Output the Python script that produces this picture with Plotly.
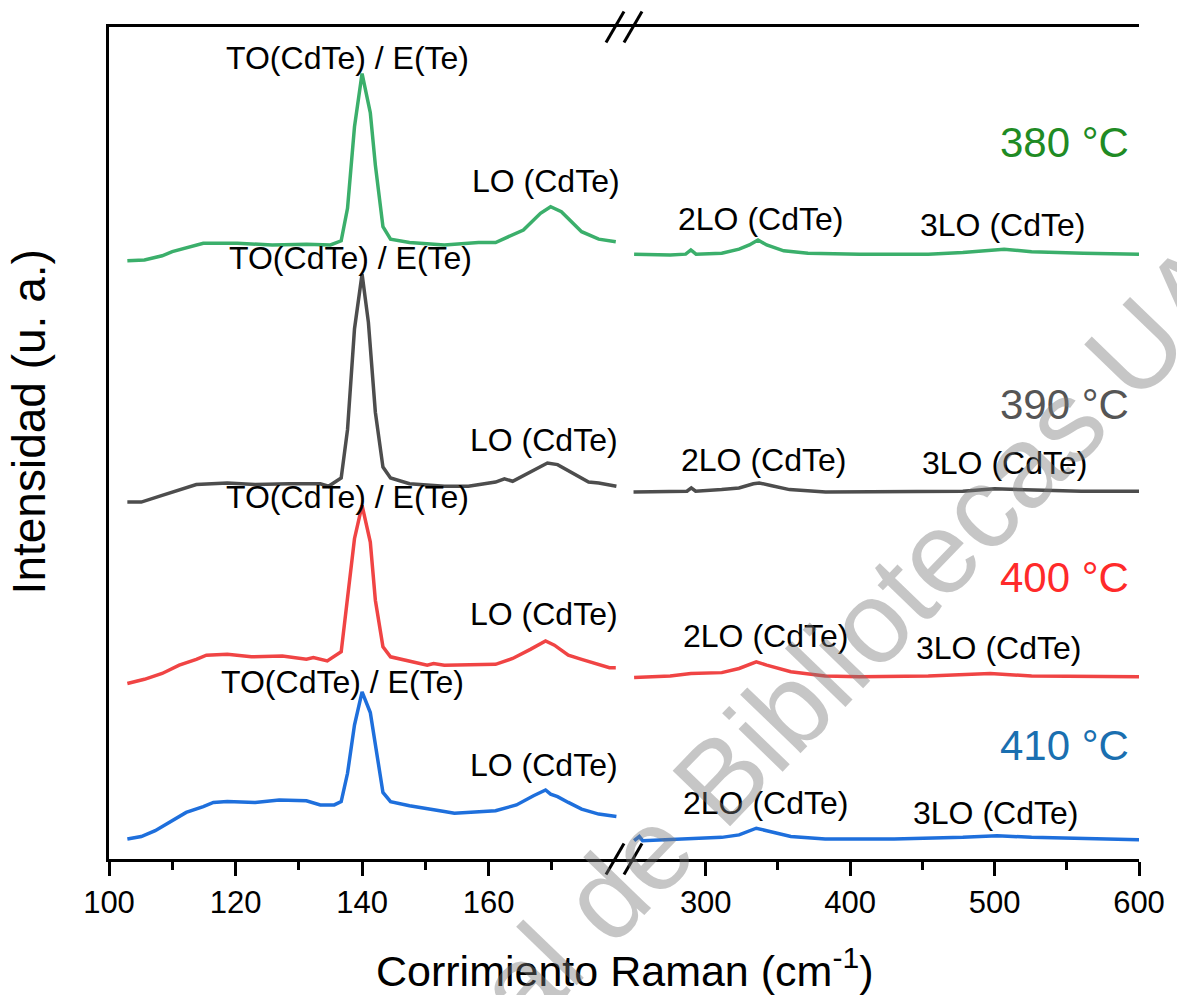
import plotly.graph_objects as go

# ---------------- data (stacked intensities, a.u.) ----------------
# left panel: 100-181 cm-1
x_l_380 = [102.9, 105.6, 108.4, 110.0, 114.9, 120.3, 125.8, 131.2, 135.0, 136.7, 137.7, 138.8, 140.0, 141.3,
           142.1, 143.3, 144.5, 147.5, 153.0, 158.4, 161.1, 165.5, 168.2, 169.8, 171.5, 174.7, 177.4, 180.1]
y_l_380 = [71.9, 72.0, 72.5, 73.0, 74.0, 74.0, 73.8, 73.9, 73.8, 74.3, 78.2, 88.0, 94.4, 89.7,
           83.4, 76.0, 74.5, 74.1, 73.8, 74.1, 74.1, 75.6, 77.6, 78.4, 77.8, 75.4, 74.5, 74.2]

x_l_390 = [102.9, 105.1, 108.4, 111.1, 113.8, 118.7, 123.1, 128.5, 133.4, 134.7, 136.7, 137.7, 138.8, 140.0,
           141.0, 142.1, 143.3, 144.5, 147.5, 153.0, 156.8, 161.1, 162.5, 163.8, 166.6, 169.3, 170.9, 173.6,
           175.8, 177.4, 180.2]
y_l_390 = [42.9, 42.9, 43.7, 44.3, 45.0, 45.2, 45.0, 45.1, 45.1, 44.8, 45.8, 51.6, 63.7, 70.3,
           64.5, 53.7, 47.1, 45.8, 45.1, 44.8, 44.8, 45.3, 45.7, 45.4, 46.5, 47.6, 47.4, 46.3,
           45.3, 45.2, 44.8]

x_l_400 = [102.9, 105.6, 108.4, 111.1, 113.8, 115.4, 118.7, 122.5, 127.4, 131.2, 132.3, 134.5, 136.7, 137.7,
           138.8, 140.0, 141.3, 142.1, 143.3, 144.5, 147.5, 150.3, 151.3, 153.0, 161.1, 163.8, 166.6, 169.0,
           170.4, 172.6, 174.7, 177.4, 179.1, 180.1]
y_l_400 = [21.1, 21.6, 22.3, 23.3, 24.0, 24.5, 24.6, 24.3, 24.4, 24.0, 24.2, 23.8, 24.9, 31.1,
           38.5, 42.5, 38.1, 31.1, 25.5, 24.3, 23.8, 23.3, 23.5, 23.3, 23.4, 24.1, 25.2, 26.2,
           25.7, 24.5, 24.0, 23.4, 23.0, 23.0]

x_l_410 = [102.9, 105.1, 107.3, 109.5, 112.2, 114.9, 116.5, 118.7, 123.1, 126.9, 131.2, 133.4, 135.6, 136.7,
           137.7, 138.8, 140.0, 141.3, 142.1, 143.3, 144.5, 147.5, 153.0, 154.6, 161.1, 164.4, 167.1, 169.0,
           169.8, 170.9, 172.6, 174.7, 177.4, 180.2]
y_l_410 = [2.4, 2.7, 3.4, 4.4, 5.6, 6.3, 6.8, 6.9, 6.8, 7.1, 7.0, 6.5, 6.5, 6.9,
           10.3, 16.1, 20.1, 17.6, 13.6, 8.0, 6.9, 6.4, 5.7, 5.5, 5.8, 6.5, 7.6, 8.3,
           7.8, 7.5, 6.8, 6.0, 5.4, 5.1]

# right panel: 245-600 cm-1
x_r_380 = [250.4, 275.4, 286.1, 289.7, 293.3, 311.1, 323.1, 330.2, 336.2, 342.2, 354.0, 370.8, 406.5, 454.1,
           478.0, 506.6, 525.6, 561.4, 600.0]
y_r_380 = [72.7, 72.6, 72.7, 73.2, 72.7, 72.8, 73.3, 73.8, 74.4, 73.8, 73.1, 72.8, 72.7, 72.7,
           72.9, 73.3, 73.0, 72.8, 72.7]

x_r_390 = [250, 275, 287, 290, 293, 311, 323, 333, 337, 345, 358, 383, 430, 478, 500, 525, 560, 600]
y_r_390 = [44.1, 44.1, 44.2, 44.6, 44.2, 44.4, 44.6, 45.1, 45.2, 44.9, 44.4, 44.1, 44.2, 44.2, 44.5, 44.4,
           44.2, 44.2]

x_r_400 = [250.4, 275.4, 289.7, 311.1, 323.1, 335.0, 342.2, 358.9, 382.7, 406.5, 454.1, 497.0, 525.6, 600.0]
y_r_400 = [21.8, 22.0, 22.3, 22.4, 22.9, 23.7, 23.3, 22.5, 22.0, 21.9, 22.0, 22.3, 22.0, 21.9]

x_r_410 = [250.4, 254.0, 256.3, 287.4, 311.1, 323.1, 335.0, 342.2, 358.9, 382.7, 430.4, 478.0, 501.8, 525.6,
           600.0]
y_r_410 = [2.2, 2.7, 2.2, 2.4, 2.6, 2.9, 3.7, 3.4, 2.7, 2.4, 2.4, 2.6, 2.8, 2.6, 2.3]

series_names = ["380 °C", "390 °C", "400 °C", "410 °C"]
line_colors = ["#3BAF6B", "#4D4D4D", "#F04444", "#1E6FDC"]
label_colors = ["#1F8B24", "#555555", "#FF2A2A", "#1A6FB0"]

peak_labels = ["TO(CdTe) / E(Te)", "LO (CdTe)", "2LO (CdTe)", "3LO (CdTe)"]

left_ticks = [100, 120, 140, 160]
left_minor = [110, 130, 150, 170]
right_ticks = [300, 400, 500, 600]
right_minor = [350, 450, 550]

left_x = [x_l_380, x_l_390, x_l_400, x_l_410]
left_y = [y_l_380, y_l_390, y_l_400, y_l_410]
right_x = [x_r_380, x_r_390, x_r_400, x_r_410]
right_y = [y_r_380, y_r_390, y_r_400, y_r_410]

FONT = "Arial, Liberation Sans, sans-serif"

fig = go.Figure()
for i in range(4):
    fig.add_trace(go.Scatter(x=left_x[i], y=left_y[i], mode="lines", xaxis="x", yaxis="y",
                             line=dict(color=line_colors[i], width=3.5), name=series_names[i],
                             showlegend=False))
    fig.add_trace(go.Scatter(x=right_x[i], y=right_y[i], mode="lines", xaxis="x2", yaxis="y",
                             line=dict(color=line_colors[i], width=3.5), name=series_names[i],
                             showlegend=False))

# peak label positions per series: (TO x, y), (LO x, y), (2LO x, y), (3LO x, y)
label_pos = [
    [(137.7, 96.3), (169.0, 81.5), (337.8, 76.9), (505.7, 76.2)],
    [(138.2, 72.2), (168.8, 50.4), (339.9, 48.0), (507.1, 47.6)],
    [(137.7, 43.5), (168.8, 29.4), (341.3, 26.8), (503.0, 25.4)],
    [(136.9, 21.3), (168.8, 11.3), (341.3, 6.7), (500.3, 5.5)],
]
temp_y = [86.1, 54.6, 33.8, 13.7]

ann = []
for i in range(4):
    for j, (px, py) in enumerate(label_pos[i]):
        ann.append(dict(x=px, y=py, xref="x" if j < 2 else "x2", yref="y", text=peak_labels[j],
                        showarrow=False, xanchor="center", yanchor="middle",
                        font=dict(family=FONT, size=32, color="black")))
    ann.append(dict(x=594.2, y=temp_y[i], xref="x2", yref="y", text=series_names[i], showarrow=False,
                    xanchor="right", yanchor="middle",
                    font=dict(family=FONT, size=42, color=label_colors[i])))

# axis titles
ann.append(dict(x=0.5, y=-0.131, xref="paper", yref="paper", text="Corrimiento Raman (cm<sup>-1</sup>)",
                showarrow=False, xanchor="center", yanchor="middle",
                font=dict(family=FONT, size=43, color="black")))
ann.append(dict(x=-0.0775, y=0.525, xref="paper", yref="paper", text="Intensidad (u. a.)",
                showarrow=False, xanchor="center", yanchor="middle", textangle=-90,
                font=dict(family=FONT, size=46, color="black")))

# watermark
ann.append(dict(x=0.475, y=-0.055, xref="paper", yref="paper", text="Dirección General de Bibliotecas UAQ",
                showarrow=False, xanchor="center", yanchor="middle", textangle=-46,
                font=dict(family=FONT, size=116, color="rgba(120,120,120,0.42)")))

# axis-break marks
shapes = []
for yanc in (0, 1):
    for dx in (-18, 0):
        shapes.append(dict(type="line", xref="paper", yref="paper", xsizemode="pixel", ysizemode="pixel",
                           xanchor=0.5, yanchor=yanc, x0=dx, x1=dx + 18, y0=-15.5, y1=15.5,
                           line=dict(color="black", width=3)))

axis_common = dict(showgrid=False, zeroline=False, showline=True, linecolor="black", linewidth=2.5,
                   mirror=True, ticks="outside", ticklen=14, tickwidth=2.5, tickcolor="black",
                   tickfont=dict(family=FONT, size=31, color="black"))

fig.update_layout(
    width=1177, height=995,
    margin=dict(l=109, r=36, t=27, b=136),
    paper_bgcolor="white", plot_bgcolor="white",
    xaxis=dict(domain=[0, 0.5], range=[100, 181.4], anchor="y", tickmode="array", tickvals=left_ticks,
               minor=dict(tickmode="array", tickvals=left_minor, ticks="outside", ticklen=8, tickwidth=2.5,
                          tickcolor="black"),
               **axis_common),
    xaxis2=dict(domain=[0.5, 1], range=[243.4, 600], anchor="y", tickmode="array", tickvals=right_ticks,
                minor=dict(tickmode="array", tickvals=right_minor, ticks="outside", ticklen=8, tickwidth=2.5,
                           tickcolor="black"),
                **axis_common),
    yaxis=dict(domain=[0, 1], range=[0, 100], showgrid=False, zeroline=False, showline=True,
               linecolor="black", linewidth=2.5, showticklabels=False, ticks=""),
    yaxis2=dict(domain=[0, 1], range=[0, 100], overlaying="y", anchor="x2", side="right", showgrid=False,
                zeroline=False, showline=True, linecolor="black", linewidth=2.5, showticklabels=False,
                ticks=""),
    annotations=ann,
    shapes=shapes,
)

fig.write_html("out.html")
